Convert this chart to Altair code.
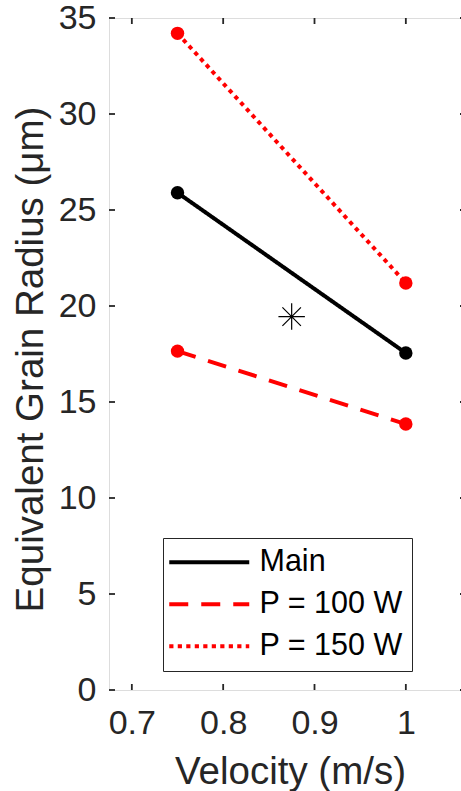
import altair as alt
import pandas as pd

# Grain size versus scan velocity for three process settings
velocity = [0.75, 1.0]
main_radius = [25.9, 17.55]
p100_radius = [17.65, 13.85]
p150_radius = [34.2, 21.2]
series_names = ["Main", "P = 100 W", "P = 150 W"]

# Single reference point (asterisk)
star_velocity = [0.875]
star_radius = [19.45]

# Axis tick values
x_ticks = [0.7, 0.8, 0.9, 1.0]
y_ticks = [0, 5, 10, 15, 20, 25, 30, 35]

series_colors = ["#000000", "#FF0000", "#FF0000"]
series_dashes = [[1, 0], [19, 13], [4.2, 4.3]]

FONT = "Liberation Sans"
AXIS_COLOR = "#262626"
W, H = 352, 672

rows = []
for name, values in zip(series_names, [main_radius, p100_radius, p150_radius]):
    for v, r in zip(velocity, values):
        rows.append({"series": name, "velocity": v, "radius": r})
df = pd.DataFrame(rows)
star_df = pd.DataFrame({"velocity": star_velocity, "radius": star_radius})
xt_df = pd.DataFrame({"t": x_ticks})
yt_df = pd.DataFrame({"t": y_ticks})

x_scale = alt.Scale(domain=[0.675, 1.0604], nice=False, zero=False)
y_scale = alt.Scale(domain=[0, 35], nice=False, zero=False)

x_axis = alt.Axis(
    values=x_ticks, format="~g", ticks=False, tickSize=0, domain=False, grid=False,
    labelFont=FONT, labelFontSize=34, labelColor=AXIS_COLOR, labelPadding=16,
    labelFlush=False, labelOverlap=False,
    title="Velocity (m/s)", titleFont=FONT, titleFontSize=38.5, titleColor=AXIS_COLOR,
    titleFontWeight="normal", titleBaseline="alphabetic", titleY=93, titleX=181,
)
y_axis = alt.Axis(
    values=y_ticks, format="d", ticks=False, tickSize=0, domain=False, grid=False,
    labelFont=FONT, labelFontSize=34, labelColor=AXIS_COLOR, labelPadding=13,
    labelFlush=False, labelOverlap=False,
    title="Equivalent Grain Radius (μm)", titleFont=FONT, titleFontSize=38.5,
    titleColor=AXIS_COLOR, titleFontWeight="normal", titleAngle=270,
    titleBaseline="alphabetic", titleAlign="center", titleX=-67, titleY=341,
)

legend = alt.Legend(
    title=None, orient="none", legendX=54, legendY=520,
    fillColor="white", strokeColor=AXIS_COLOR, padding=9,
    symbolType="M-1.8,0H6.2", symbolSize=400, symbolStrokeWidth=4,
    labelFont=FONT, labelFontSize=30.5, labelColor="#000000",
    labelOffset=57, rowPadding=11,
)

lines = alt.Chart(df).mark_line(strokeWidth=4).encode(
    x=alt.X("velocity:Q", scale=x_scale, axis=x_axis),
    y=alt.Y("radius:Q", scale=y_scale, axis=y_axis),
    color=alt.Color("series:N", scale=alt.Scale(domain=series_names, range=series_colors),
                    legend=legend, sort=series_names),
    strokeDash=alt.StrokeDash("series:N", scale=alt.Scale(domain=series_names, range=series_dashes),
                              legend=legend, sort=series_names),
)

points = alt.Chart(df).mark_point(filled=True, size=180, opacity=1, shape="circle", strokeWidth=0).encode(
    x=alt.X("velocity:Q", scale=x_scale),
    y=alt.Y("radius:Q", scale=y_scale),
    fill=alt.Fill("series:N", scale=alt.Scale(domain=series_names, range=series_colors), legend=None),
)

asterisk = "M0,-1V1M-1,0H1M-0.7,-0.7L0.7,0.7M-0.7,0.7L0.7,-0.7"
star = alt.Chart(star_df).mark_point(shape=asterisk, size=700, stroke="#000000",
                                     strokeWidth=1.2, filled=False, opacity=1).encode(
    x=alt.X("velocity:Q", scale=x_scale),
    y=alt.Y("radius:Q", scale=y_scale),
)

# Inward-pointing ticks on all four sides of the box
tick_style = dict(color=AXIS_COLOR, strokeWidth=1.8)
bottom_ticks = alt.Chart(xt_df).mark_rule(**tick_style).encode(
    x=alt.X("t:Q", scale=x_scale), y=alt.value(H), y2=alt.value(H - 6))
top_ticks = alt.Chart(xt_df).mark_rule(**tick_style).encode(
    x=alt.X("t:Q", scale=x_scale), y=alt.value(0), y2=alt.value(6))
left_ticks = alt.Chart(yt_df).mark_rule(**tick_style).encode(
    y=alt.Y("t:Q", scale=y_scale), x=alt.value(0), x2=alt.value(6))
right_ticks = alt.Chart(yt_df).mark_rule(**tick_style).encode(
    y=alt.Y("t:Q", scale=y_scale), x=alt.value(W + 5), x2=alt.value(W - 1))

chart = alt.layer(
    lines, points, star, bottom_ticks, top_ticks, left_ticks, right_ticks
).properties(
    width=W, height=H,
    autosize=alt.AutoSizeParams(type="none"),
    padding={"left": 109, "top": 18, "right": 0, "bottom": 101},
).configure_view(
    stroke=AXIS_COLOR, strokeWidth=1.8, fill="white"
).configure(background="white")

chart.save("out.html", embed_options={"renderer": "svg", "actions": False})
